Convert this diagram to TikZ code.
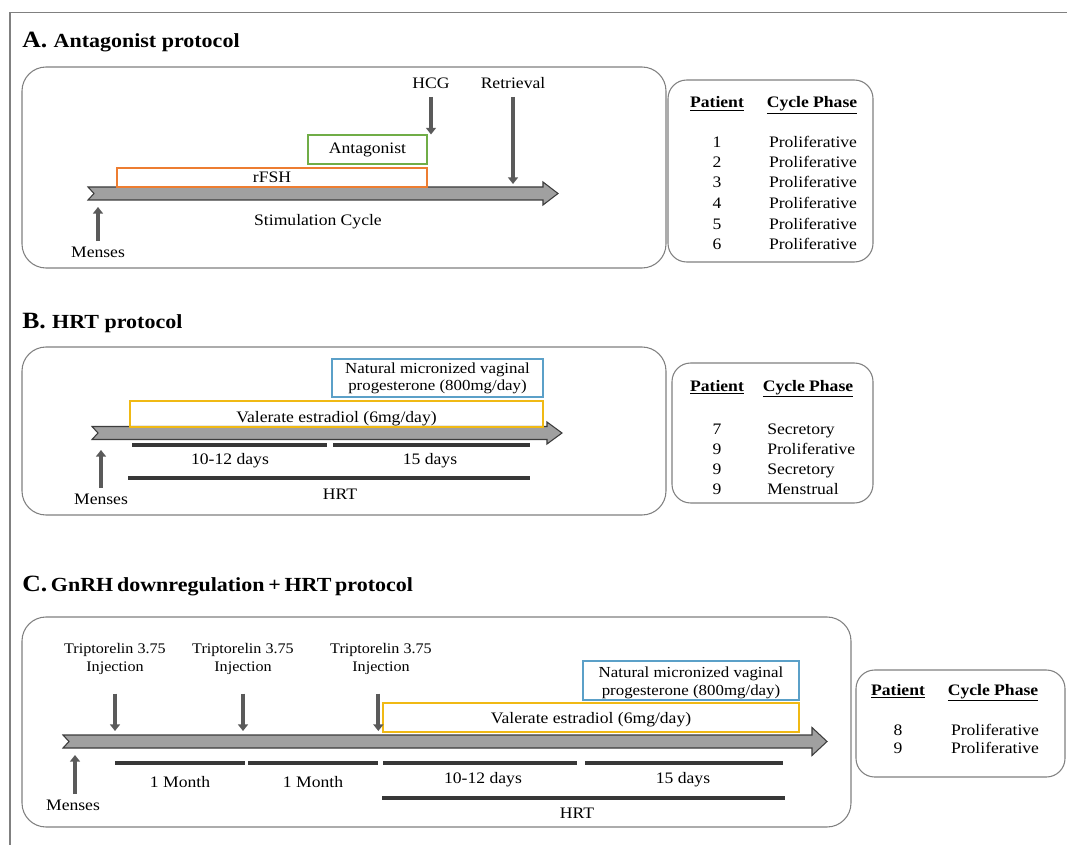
\documentclass[tikz,border=0pt]{standalone}
\usepackage{fontspec}
\setmainfont{Liberation Serif}[FakeStretch=1.1]
\usetikzlibrary{arrows.meta,fit}
\definecolor{frameg}{RGB}{128,128,128}
\definecolor{arrfill}{RGB}{160,160,160}
\definecolor{arrline}{RGB}{60,60,60}
\definecolor{orng}{RGB}{237,125,49}
\definecolor{grn}{RGB}{112,173,71}
\definecolor{ylw}{RGB}{240,185,20}
\definecolor{blu}{RGB}{91,160,200}
\definecolor{bardark}{RGB}{55,55,55}
\definecolor{sarrc}{RGB}{90,90,90}
\tikzset{
 panel/.style={draw=frameg, line width=0.8pt, rounded corners=18pt, inner sep=0pt},
 tbl/.style={draw=frameg, line width=0.8pt, rounded corners=14pt, inner sep=0pt},
 drug/.style={line width=0.8pt, inner sep=0pt},
 lbl/.style={inner sep=0pt, anchor=base, font=\fontsize{12}{14}\selectfont},
 dlbl/.style={inner sep=0pt, anchor=base, font=\fontsize{11.5}{13}\selectfont},
 slbl/.style={inner sep=0pt, align=center, font=\fontsize{11}{13.5}\selectfont},
 hdr/.style={inner sep=0pt, anchor=base west},
 th/.style={inner sep=0pt, anchor=base, font=\fontsize{12}{14}\selectfont\bfseries},
 blk/.style={draw=arrline, fill=arrfill, line width=0.8pt},
 bar/.style={draw=bardark, line width=2.4pt},
 sarr/.style={draw=sarrc, line width=3pt, -{Triangle[width=7.5pt,length=5pt]}},
}
\newcommand{\blockarrow}[4]{%
 \draw[blk] (#1,{#3-6.5}) -- ({#2-15},{#3-6.5}) -- ({#2-15},{#3-#4}) -- (#2,#3)
  -- ({#2-15},{#3+#4}) -- ({#2-15},{#3+6.5}) -- (#1,{#3+6.5}) -- ({#1+6},#3) -- cycle;}
\newcommand{\hdrtext}[2]{{\fontsize{17.5}{20}\selectfont\bfseries #1 }{\fontsize{15}{17}\selectfont\bfseries #2}}
\begin{document}
\begin{tikzpicture}[x=0.75pt,y=-0.75pt]
\useasboundingbox (0,0) rectangle (1067,845);
\draw[frameg, line width=0.8pt] (10,845) -- (10,12.5) -- (1067,12.5);

% ---------------- Panel A ----------------
\node[hdr] (hA) at (22,48) {\hdrtext{A.}{Antagonist protocol}};
\node[panel, fit={(22,67)(666,268)}] (pA) {};
\blockarrow{88}{558}{193.5}{11.5}
\node[drug, draw=orng, fit={(117,168)(427,187)}] (rfsh) {};
\node[lbl] (rfshT) at (272,183) {rFSH};
\node[drug, draw=grn, fit={(308,135)(427,164)}] (antag) {};
\node[lbl] (antagT) at (367.5,154) {Antagonist};
\node[lbl] (hcg) at (431,89) {HCG};
\node[lbl] (ret) at (513,89) {Retrieval};
\coordinate (retT) at (513,184);
\node[lbl] (stim) at (318,225) {Stimulation Cycle};
\node[lbl] (menA) at (98,257) {Menses};
\coordinate (menAT) at (98,207);
\draw[sarr] ([yshift=-6pt]hcg.base) -- (hcg.base |- antag.north);
\draw[sarr] ([yshift=-6pt]ret.base) -- (retT);
\draw[sarr] ([yshift=12pt]menA.base) -- (menAT);

\node[tbl, fit={(668,80)(873,262)}] (tA) {};
\node[th] (tAp) at (717,108) {\underline{Patient}};
\node[th] (tAc) at (812,108) {\underline{Cycle Phase}};
\foreach \n/\y in {1/148,2/168,3/188,4/209,5/229,6/249}{
  \node[lbl] (tAn\n) at (717,\y) {\n};
  \node[lbl] (tAr\n) at (813,\y) {Proliferative};
}

% ---------------- Panel B ----------------
\node[hdr] (hB) at (22,328) {\hdrtext{B.}{HRT protocol}};
\node[panel, fit={(22,347)(666,515)}] (pB) {};
\blockarrow{92}{562}{433}{11}
\node[drug, draw=blu, fit={(332,359)(543,397)}] (progB) {};
\node[dlbl] (progB1) at (437.5,373) {Natural micronized vaginal};
\node[dlbl] (progB2) at (437.5,390) {progesterone (800mg/day)};
\node[drug, draw=ylw, fit={(130,401)(543,427)}] (valB) {};
\node[lbl] (valBT) at (336.5,422) {Valerate estradiol (6mg/day)};
\draw[bar] (132,445) -- (327,445);
\draw[bar] (333,445) -- (530,445);
\draw[bar] (128,478) -- (530,478);
\node[lbl] (d1B) at (230,464) {10-12 days};
\node[lbl] (d2B) at (430,464) {15 days};
\node[lbl] (hrtB) at (340,499) {HRT};
\node[lbl] (menB) at (101,504) {Menses};
\coordinate (menBT) at (102,450);
\draw[sarr] ([yshift=12pt]menB.base) -- (menB.base |- menBT);

\node[tbl, fit={(672,363)(873,503)}] (tB) {};
\node[th] (tBp) at (717,391) {\underline{Patient}};
\node[th] (tBc) at (808,391) {\underline{Cycle Phase}};
\foreach \n/\p/\y [count=\i] in {7/Secretory/434,9/Proliferative/454,9/Secretory/474,9/Menstrual/494}{
  \node[lbl] (tBn\i) at (717,\y) {\n};
  \node[lbl, anchor=base west] (tBr\i) at (767,\y) {\p};
}

% ---------------- Panel C ----------------
\node[hdr] (hC) at (22,591) {\spaceskip=0.28em plus 0.05em\hdrtext{C.}{GnRH downregulation + HRT protocol}};
\node[panel, fit={(22,617)(851,827)}] (pC) {};
\blockarrow{63}{827}{741.5}{14}
\node[drug, draw=blu, fit={(583,661)(799,700)}] (progC) {};
\node[dlbl] (progC1) at (691,677) {Natural micronized vaginal};
\node[dlbl] (progC2) at (691,695) {progesterone (800mg/day)};
\node[drug, draw=ylw, fit={(383,703)(799,732)}] (valC) {};
\node[lbl] (valCT) at (591,723) {Valerate estradiol (6mg/day)};
\node[slbl] (tr1) at (115,659) {Triptorelin 3.75\\Injection};
\node[slbl] (tr2) at (243,659) {Triptorelin 3.75\\Injection};
\node[slbl] (tr3) at (381,659) {Triptorelin 3.75\\Injection};
\coordinate (trT) at (0,731);
\draw[sarr] ([yshift=-14pt]tr1.south) -- (tr1.south |- trT);
\draw[sarr] ([yshift=-14pt]tr2.south) -- (tr2.south |- trT);
\draw[sarr] ([xshift=-2pt,yshift=-14pt]tr3.south) -- ([xshift=-2pt]tr3.south |- trT);
\draw[bar] (115,763) -- (245,763);
\draw[bar] (248,763) -- (378,763);
\draw[bar] (383,763) -- (577,763);
\draw[bar] (585,763) -- (783,763);
\draw[bar] (382,798) -- (785,798);
\node[lbl] (m1) at (180,787) {1 Month};
\node[lbl] (m2) at (313,787) {1 Month};
\node[lbl] (d1C) at (483,783) {10-12 days};
\node[lbl] (d2C) at (683,783) {15 days};
\node[lbl] (hrtC) at (577,818) {HRT};
\node[lbl] (menC) at (73,810) {Menses};
\coordinate (menCT) at (75,755);
\draw[sarr] ([xshift=1.5pt,yshift=12pt]menC.base) -- (menCT);

\node[tbl, fit={(856,670)(1065,777)}] (tC) {};
\node[th] (tCp) at (898,695) {\underline{Patient}};
\node[th] (tCc) at (993,695) {\underline{Cycle Phase}};
\node[lbl] (tCn1) at (898,735) {8};
\node[lbl] (tCr1) at (995,735) {Proliferative};
\node[lbl] (tCn2) at (898,753) {9};
\node[lbl] (tCr2) at (995,753) {Proliferative};
\end{tikzpicture}
\end{document}
